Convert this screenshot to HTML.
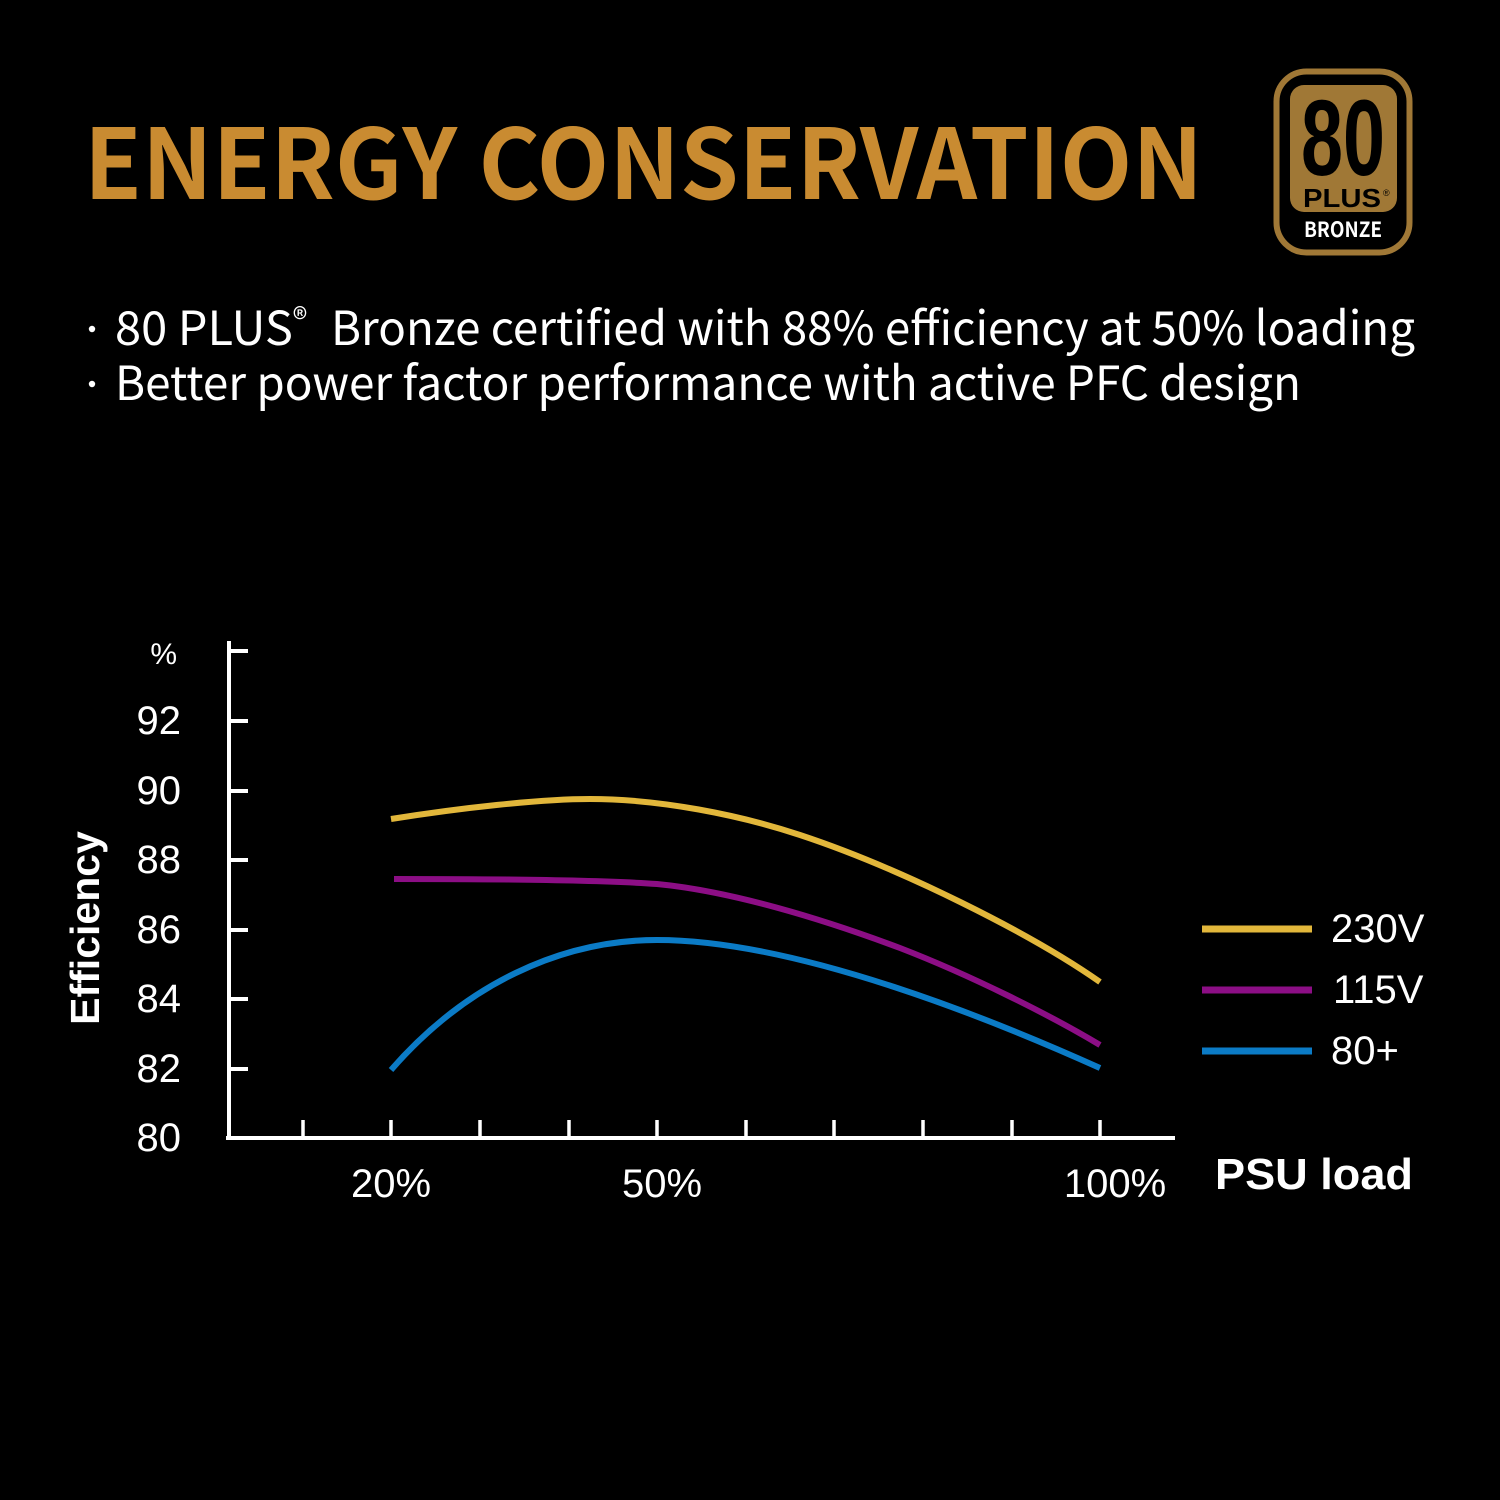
<!DOCTYPE html>
<html><head><meta charset="utf-8"><style>
html,body{margin:0;padding:0;background:#000;}
svg{display:block;}
</style></head><body>
<svg width="1500" height="1500" viewBox="0 0 1500 1500" xmlns="http://www.w3.org/2000/svg">
<rect width="1500" height="1500" fill="#000"/>
<!-- Title -->
<text x="84" y="199" font-family="'Noto Sans CJK JP','Liberation Sans',sans-serif" font-weight="bold" font-size="97" fill="#c98b31" textLength="1119" lengthAdjust="spacingAndGlyphs">ENERGY CONSERVATION</text>

<!-- Badge -->
<rect x="1276.5" y="71.5" width="133" height="181" rx="30" ry="30" fill="#000" stroke="#a07836" stroke-width="6"/>
<rect x="1290" y="85" width="107" height="127" rx="14" ry="14" fill="#a07836"/>
<text x="1343" y="175" text-anchor="middle" font-family="'Liberation Sans',sans-serif" font-weight="bold" font-size="108" fill="#000" textLength="84" lengthAdjust="spacingAndGlyphs">80</text>
<text x="1303" y="207" font-family="'Liberation Sans',sans-serif" font-weight="bold" font-size="26" fill="#000" textLength="78" lengthAdjust="spacingAndGlyphs">PLUS</text>
<text x="1383" y="196" font-family="'Liberation Sans',sans-serif" font-size="9" fill="#000">®</text>
<text x="1343" y="237" text-anchor="middle" font-family="'Noto Sans CJK JP','Liberation Sans',sans-serif" font-weight="bold" font-size="21" fill="#fff" textLength="78" lengthAdjust="spacingAndGlyphs">BRONZE</text>

<!-- Bullets -->
<circle cx="92" cy="329" r="3.2" fill="#fff"/>
<circle cx="92" cy="384" r="3.2" fill="#fff"/>
<text x="115" y="345" font-family="'Noto Sans CJK JP','Liberation Sans',sans-serif" font-size="47" fill="#fff">80 PLUS<tspan font-size="30" dy="-15">®</tspan></text>
<text x="331" y="345" font-family="'Noto Sans CJK JP','Liberation Sans',sans-serif" font-size="47" fill="#fff" textLength="1084" lengthAdjust="spacingAndGlyphs">Bronze certified with 88% efficiency at 50% loading</text>
<text x="115" y="400" font-family="'Noto Sans CJK JP','Liberation Sans',sans-serif" font-size="47" fill="#fff" textLength="1186" lengthAdjust="spacingAndGlyphs">Better power factor performance with active PFC design</text>

<!-- Axes -->
<g stroke="#fff" stroke-width="4" fill="none">
  <line x1="229" y1="641" x2="229" y2="1140"/>
  <line x1="226" y1="1138" x2="1175" y2="1138"/>
  <line x1="229" y1="651" x2="248" y2="651"/>
  <line x1="229" y1="721" x2="248" y2="721"/>
  <line x1="229" y1="791" x2="248" y2="791"/>
  <line x1="229" y1="860" x2="248" y2="860"/>
  <line x1="229" y1="930" x2="248" y2="930"/>
  <line x1="229" y1="999" x2="248" y2="999"/>
  <line x1="229" y1="1069" x2="248" y2="1069"/>
</g>
<g stroke="#fff" stroke-width="3.5">
  <line x1="303" y1="1120" x2="303" y2="1138"/>
  <line x1="391" y1="1120" x2="391" y2="1138"/>
  <line x1="480" y1="1120" x2="480" y2="1138"/>
  <line x1="569" y1="1120" x2="569" y2="1138"/>
  <line x1="657" y1="1120" x2="657" y2="1138"/>
  <line x1="746" y1="1120" x2="746" y2="1138"/>
  <line x1="834" y1="1120" x2="834" y2="1138"/>
  <line x1="923" y1="1120" x2="923" y2="1138"/>
  <line x1="1012" y1="1120" x2="1012" y2="1138"/>
  <line x1="1100" y1="1120" x2="1100" y2="1138"/>
</g>

<!-- Y labels -->
<g font-family="'Liberation Sans',sans-serif" font-size="40" fill="#fff" text-anchor="end">
  <text x="181" y="734">92</text>
  <text x="181" y="804">90</text>
  <text x="181" y="873">88</text>
  <text x="181" y="943">86</text>
  <text x="181" y="1012">84</text>
  <text x="181" y="1082">82</text>
  <text x="181" y="1151">80</text>
  <text x="177" y="664" font-size="30">%</text>
</g>
<text transform="translate(99,928) rotate(-90)" text-anchor="middle" font-family="'Liberation Sans',sans-serif" font-weight="bold" font-size="41" fill="#fff">Efficiency</text>

<!-- X labels -->
<g font-family="'Liberation Sans',sans-serif" font-size="40" fill="#fff" text-anchor="middle">
  <text x="391" y="1197">20%</text>
  <text x="662" y="1197">50%</text>
  <text x="1115" y="1197">100%</text>
</g>
<text x="1215" y="1189" font-family="'Liberation Sans',sans-serif" font-weight="bold" font-size="44" fill="#fff" textLength="198" lengthAdjust="spacingAndGlyphs">PSU load</text>

<!-- Curves -->
<g fill="none" stroke-width="6" stroke-linecap="butt">
  <path d="M391,819 C460,808 540,799 590,799 C660,799 740,815 800,835 C900,868 1030,933 1100,982" stroke="#e2b73b"/>
  <path d="M394,879 C500,879 600,880 657,884 C730,891 820,918 900,948 C970,975 1050,1015 1100,1045" stroke="#8c0e85"/>
  <path d="M391,1070 C465,985 560,940 657,940 C800,940 1000,1023 1100,1068" stroke="#0b7bc6"/>
</g>

<!-- Legend -->
<g stroke-width="7">
  <line x1="1202" y1="929" x2="1312" y2="929" stroke="#e2b73b"/>
  <line x1="1202" y1="990" x2="1312" y2="990" stroke="#8c0e85"/>
  <line x1="1202" y1="1051" x2="1312" y2="1051" stroke="#0b7bc6"/>
</g>
<g font-family="'Liberation Sans',sans-serif" font-size="40" fill="#fff">
  <text x="1331" y="942">230V</text>
  <text x="1333" y="1003">115V</text>
  <text x="1331" y="1064">80+</text>
</g>
</svg>
</body></html>
